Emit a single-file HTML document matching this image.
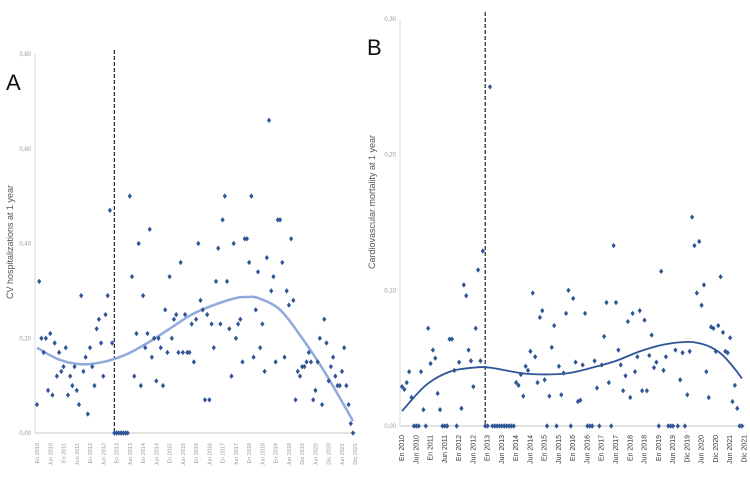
<!DOCTYPE html>
<html><head><meta charset="utf-8"><style>
body{margin:0;background:#fff;}
svg{display:block;font-family:"Liberation Sans",sans-serif;}
</style></head><body>
<svg id="c" width="750" height="500" viewBox="0 0 750 500">
<g id="A"></g>
<g id="B"></g>
</svg>
<script>
const valuesA=[0.06,0.32,0.20,0.17,0.20,0.09,0.21,0.08,0.19,0.12,0.17,0.13,0.14,0.18,0.08,0.12,0.10,0.14,0.09,0.06,0.29,0.13,0.16,0.04,0.18,0.14,0.10,0.22,0.24,0.19,0.12,0.25,0.29,0.47,0.19,0,0,0,0,0,0,0,0.50,0.33,0.12,0.21,0.40,0.10,0.29,0.18,0.21,0.43,0.16,0.20,0.11,0.20,0.18,0.10,0.26,0.17,0.33,0.20,0.24,0.25,0.17,0.36,0.17,0.25,0.17,0.17,0.23,0.15,0.24,0.40,0.28,0.26,0.07,0.25,0.07,0.23,0.18,0.32,0.39,0.23,0.45,0.50,0.32,0.22,0.12,0.40,0.20,0.23,0.24,0.15,0.41,0.41,0.36,0.50,0.16,0.26,0.34,0.18,0.23,0.13,0.37,0.66,0.30,0.33,0.15,0.45,0.45,0.36,0.16,0.30,0.27,0.41,0.28,0.07,0.13,0.12,0.14,0.14,0.15,0.17,0.15,0.07,0.09,0.15,0.20,0.06,0.24,0.19,0.11,0.14,0.16,0.12,0.10,0.10,0.13,0.18,0.10,0.06,0.02,0.00];
const trendMonthsA=[0,10,20,30,40,50,60,70,80,90,95,100,110,120,130,140,143];
const trendValuesA=[0.18,0.155,0.145,0.15,0.165,0.19,0.22,0.25,0.27,0.285,0.287,0.285,0.26,0.20,0.13,0.05,0.025];
const ticksA=[0,0.2,0.4,0.6,0.8];
const tickLabelsA=["0,00","0,20","0,40","0,60","0,80"];
const valuesB=[0.029,0.027,0.032,0.040,0.021,0,0,0,0.040,0.012,0,0.072,0.046,0.056,0.050,0.024,0.012,0,0,0,0.064,0.064,0.041,0,0.047,0.013,0.104,0.096,0.056,0.048,0.029,0.072,0.115,0.048,0.129,0,0,0.25,0,0,0,0,0,0,0,0,0,0,0.032,0.030,0.038,0.022,0.044,0.041,0.055,0.098,0.051,0.032,0.080,0.085,0.034,0,0.022,0.058,0.074,0,0.044,0.023,0.039,0.083,0.100,0,0.094,0.047,0.018,0.019,0.045,0.083,0,0,0,0.048,0.028,0,0.045,0.066,0.091,0.032,0,0.133,0.091,0.056,0.045,0.026,0.037,0.077,0.021,0.083,0.040,0.051,0.085,0.026,0.078,0.026,0.052,0.067,0.043,0.047,0,0.114,0.041,0.051,0,0,0,0.056,0,0.034,0.054,0,0.023,0.055,0.154,0.133,0.098,0.136,0.089,0.104,0.040,0.021,0.073,0.072,0.055,0.074,0.110,0.069,0.055,0.054,0.065,0.018,0.030,0.013,0,0];
const trendMonthsB=[0,10,20,30,37,50,60,70,80,90,100,110,120,125,130,135,140,143];
const trendValuesB=[0.011,0.03,0.04,0.043,0.043,0.039,0.038,0.039,0.043,0.048,0.055,0.06,0.062,0.061,0.058,0.052,0.042,0.035];
const ticksB=[0,0.1,0.2,0.3];
const tickLabelsB=["0,00","0,10","0,20","0,30"];
const monthLabelsA=["En 2010","Jun 2010","En 2011","Jun 2011","En 2012","Jun 2012","En 2013","Jun 2013","En 2014","Jun 2014","En 2015","Jun 2015","En 2016","Jun 2016","En 2017","Jun 2017","En 2018","Jun 2018","En 2019","Jun 2019","Dic 2019","Jun 2020","Dic 2020","Jun 2021","Dic 2021"];
const monthLabelsB=["En 2010","Jun 2010","En 2011","Jun 2011","En 2012","Jun 2012","En 2013","Jun 2013","En 2014","Jun 2014","En 2015","Jun 2015","En 2016","Jun 2016","En 2017","Jun 2017","En 2018","Jun 2018","En 2019","Jun 2019","Dic 2019","Jun 2020","Dic 2020","Jun 2021","Dic 2021"];
const interventionMonth=35;

const NS="http://www.w3.org/2000/svg";
function mk(parent,tag,attrs){const e=document.createElementNS(NS,tag);for(const k in attrs)e.setAttribute(k,attrs[k]);parent.appendChild(e);return e;}

function panel(g,cfg){
  const x=m=>cfg.x0+(m)*(cfg.x1-cfg.x0)/143;
  const y=v=>cfg.y0-(v/cfg.max)*(cfg.y0-cfg.yTop);
  let e=mk(g,'line',{x1:cfg.axisX,y1:cfg.yTop,x2:cfg.axisX,y2:cfg.y0,stroke:'#d9d9d9','stroke-width':1});
  
  
  e=mk(g,'line',{x1:cfg.axisX,y1:cfg.y0,x2:cfg.x1+3,y2:cfg.y0,stroke:'#d9d9d9','stroke-width':1.5});
  
  
  cfg.ticks.forEach((t,i)=>{
    const tx=mk(g,'text',{x:cfg.axisX-4,y:y(t)+2,'text-anchor':'end','font-size':6,fill:'#999'});
    tx.textContent=cfg.tickLabels[i];
    
    
  });
  cfg.monthLabels.forEach((l,i)=>{
    const px=x(i*6)+2;
    const tx=mk(g,'text',{x:0,y:0,transform:`translate(${px},${cfg.y0+cfg.labelOff}) rotate(-90)`,'text-anchor':'end','font-size':cfg.lfs,fill:cfg.lcol});
    tx.textContent=l;
    
    
  });
  const ix=x(interventionMonth);
  e=mk(g,'line',{x1:ix,y1:cfg.dashTop,x2:ix,y2:cfg.y0,stroke:'#222','stroke-width':1.2,'stroke-dasharray':'4,2'});
  
  
  const pts=cfg.tm.map((m,i)=>[x(m),y(cfg.tv[i])]);
  let d=`M${pts[0][0]},${pts[0][1]}`;
  for(let i=0;i<pts.length-1;i++){
    const p0=pts[Math.max(0,i-1)],p1=pts[i],p2=pts[i+1],p3=pts[Math.min(pts.length-1,i+2)];
    const c1=[p1[0]+(p2[0]-p0[0])/6,p1[1]+(p2[1]-p0[1])/6];
    const c2=[p2[0]-(p3[0]-p1[0])/6,p2[1]-(p3[1]-p1[1])/6];
    d+=` C${c1[0]},${c1[1]} ${c2[0]},${c2[1]} ${p2[0]},${p2[1]}`;
  }
  e=mk(g,'path',{d:d,fill:'none',stroke:cfg.tcol,'stroke-width':cfg.tw});
  
  
  cfg.vals.forEach((v,m)=>{
    const px=x(m),py=y(v);
    const p=mk(g,'path',{d:`M${px},${py-2.7}L${px+2.1},${py}L${px},${py+2.7}L${px-2.1},${py}Z`,fill:'#2f5597'});
    
    
  });
  const ttl=mk(g,'text',{x:0,y:0,transform:`translate(${cfg.titleX},${cfg.titleY}) rotate(-90)`,'text-anchor':'middle','font-size':9,fill:'#555'});
  ttl.textContent=cfg.title;
  
  
  const L=mk(g,'text',{x:cfg.letX,y:cfg.letY,'font-size':22,fill:'#111'});
  L.textContent=cfg.letter;
  
  
}
panel(document.getElementById('A'),{x0:37,x1:353,y0:433,yTop:54,max:0.8,axisX:35,ticks:ticksA,tickLabels:tickLabelsA,monthLabels:monthLabelsA,labelOff:10,lfs:5.5,lcol:'#999',dashTop:50,tm:trendMonthsA,tv:trendValuesA,tcol:'#8faadc',tw:2.5,vals:valuesA,title:'CV hospitalizations at 1 year',titleX:13,titleY:242,letter:'A',letX:6,letY:90});
panel(document.getElementById('B'),{x0:402,x1:742,y0:426,yTop:19,max:0.3,axisX:400,ticks:ticksB,tickLabels:tickLabelsB,monthLabels:monthLabelsB,labelOff:9,lfs:7,lcol:'#333',dashTop:12,tm:trendMonthsB,tv:trendValuesB,tcol:'#2f5597',tw:1.8,vals:valuesB,title:'Cardiovascular mortality at 1 year',titleX:375,titleY:202,letter:'B',letX:367,letY:55});
</script>
</body></html>
